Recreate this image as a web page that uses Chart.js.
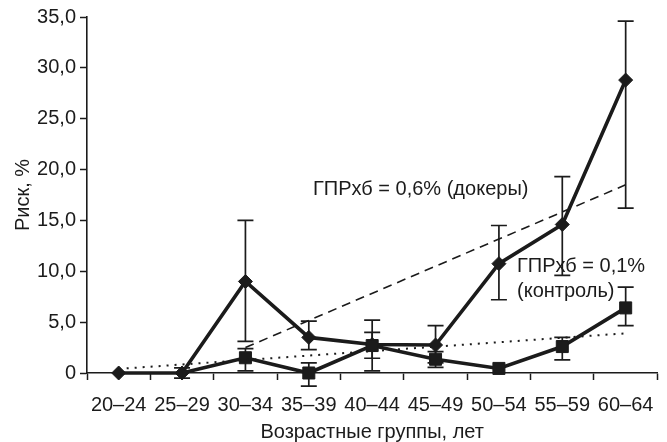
<!DOCTYPE html>
<html>
<head>
<meta charset="utf-8">
<script src="https://cdn.jsdelivr.net/npm/chart.js@4/dist/chart.umd.min.js"></script>
<style>
  html, body { margin: 0; padding: 0; background: #fff; }
  #wrap { width: 667px; height: 442px; }
</style>
</head>
<body>
<div id="wrap"><canvas id="chart" width="667" height="442"></canvas></div>
<script>
// возрастные группы
const ageGroups = ['20–24', '25–29', '30–34', '35–39', '40–44', '45–49', '50–54', '55–59', '60–64'];
const yTickLabels = ['0', '5,0', '10,0', '15,0', '20,0', '25,0', '30,0', '35,0'];

// докеры (ромбы) и доверительные интервалы
const dockers     = [0, 0, 9.0, 3.5, 2.8, 2.75, 10.75, 14.6, 28.8];
const dockersLow  = [null, -0.5, 3.1, 2.3, 0.2, 1.0, 7.2, 9.6, 16.2];
const dockersHigh = [null, 0.5, 15.0, 5.1, 5.2, 4.65, 14.5, 19.3, 34.6];

// контроль (квадраты)
const control     = [null, 0, 1.5, 0, 2.7, 1.35, 0.45, 2.6, 6.4];
const controlLow  = [null, null, 0.2, -1.3, 1.45, 0.55, null, 1.3, 4.65];
const controlHigh = [null, null, 2.4, 1.0, 4.0, 2.1, null, 3.5, 8.45];

// линии тренда (только концы)
const trendDockers = [null, null, 2.5, null, null, null, null, null, 18.5];
const trendControl = [0.4, null, null, null, null, null, null, null, 3.9];

const INK = '#1b1b1b';
const FONT = "'Liberation Sans', Arial, sans-serif";

// усы доверительных интервалов + подписи
const errorBars = {
    id: 'errorBars',
    beforeDatasetsDraw(chart) {
        const ctx = chart.ctx;
        const x = chart.scales.x, y = chart.scales.y;
        const sets = [[dockersLow, dockersHigh], [controlLow, controlHigh]];
        ctx.save();
        ctx.strokeStyle = INK;
        ctx.lineWidth = 1.7;
        sets.forEach(([lo, hi]) => {
            lo.forEach((l, i) => {
                const h = hi[i];
                if (l === null || h === null) return;
                const px = x.getPixelForValue(i);
                const y1 = y.getPixelForValue(l), y2 = y.getPixelForValue(h);
                ctx.beginPath();
                ctx.moveTo(px, y1); ctx.lineTo(px, y2);
                ctx.moveTo(px - 8, y1); ctx.lineTo(px + 8, y1);
                ctx.moveTo(px - 8, y2); ctx.lineTo(px + 8, y2);
                ctx.stroke();
            });
        });
        ctx.restore();
    },
    afterDraw(chart) {
        const ctx = chart.ctx;
        const a = chart.chartArea;
        ctx.save();
        ctx.fillStyle = INK;
        ctx.font = '20px ' + FONT;
        ctx.textBaseline = 'middle';
        ctx.fillText('ГПРхб = 0,6% (докеры)', a.left + 226, 189);
        ctx.fillText('ГПРхб = 0,1%', a.left + 430, 266);
        ctx.fillText('(контроль)', a.left + 430, 291);
        ctx.restore();
    }
};

new Chart(document.getElementById('chart'), {
    type: 'line',
    data: {
        labels: ageGroups,
        datasets: [
            {
                data: trendDockers, spanGaps: true,
                borderColor: INK, borderWidth: 1.6, borderDash: [9, 6],
                pointRadius: 0, fill: false
            },
            {
                data: trendControl, spanGaps: true,
                borderColor: INK, borderWidth: 2, borderDash: [2, 6],
                pointRadius: 0, fill: false
            },
            {
                data: control,
                borderColor: INK, borderWidth: 3.6,
                pointStyle: 'rect',
                pointRadius: ctx => ctx.dataIndex === 1 ? 0 : 8.5,
                pointBackgroundColor: INK, pointBorderColor: INK, pointBorderWidth: 1,
                clip: false
            },
            {
                data: dockers,
                borderColor: INK, borderWidth: 3.6,
                pointStyle: 'rectRot', pointRadius: 7,
                pointBackgroundColor: INK, pointBorderColor: INK, pointBorderWidth: 1,
                clip: false
            }
        ]
    },
    options: {
        responsive: false,
        animation: false,
        layout: { padding: { top: 17, right: 5, left: 0, bottom: 0 } },
        plugins: { legend: { display: false }, tooltip: { enabled: false } },
        scales: {
            x: {
                type: 'category',
                offset: true,
                afterFit: s => { s.height = 69; },
                grid: { offset: true, drawOnChartArea: false, drawTicks: true, tickLength: 7, tickColor: INK, tickWidth: 1.5 },
                border: { display: true, color: INK, width: 1.6 },
                ticks: { color: INK, font: { family: FONT, size: 20 }, padding: 13, maxRotation: 0, autoSkip: false },
                title: { display: true, text: 'Возрастные группы, лет', color: INK, font: { family: FONT, size: 20, lineHeight: 1.0 }, padding: { top: 0, bottom: 0 } }
            },
            y: {
                min: 0, max: 35,
                afterFit: s => { s.width = 87; },
                grid: { drawOnChartArea: false, drawTicks: true, tickLength: 7, tickColor: INK, tickWidth: 1.5 },
                border: { display: true, color: INK, width: 1.6 },
                ticks: { stepSize: 5, color: INK, font: { family: FONT, size: 20 }, padding: 4,
                    callback: (v, i) => yTickLabels[i] },
                title: { display: true, text: 'Риск, %', color: INK, font: { family: FONT, size: 20 }, padding: { top: 11, bottom: 0 } }
            }
        }
    },
    plugins: [errorBars]
});
</script>
</body>
</html>
